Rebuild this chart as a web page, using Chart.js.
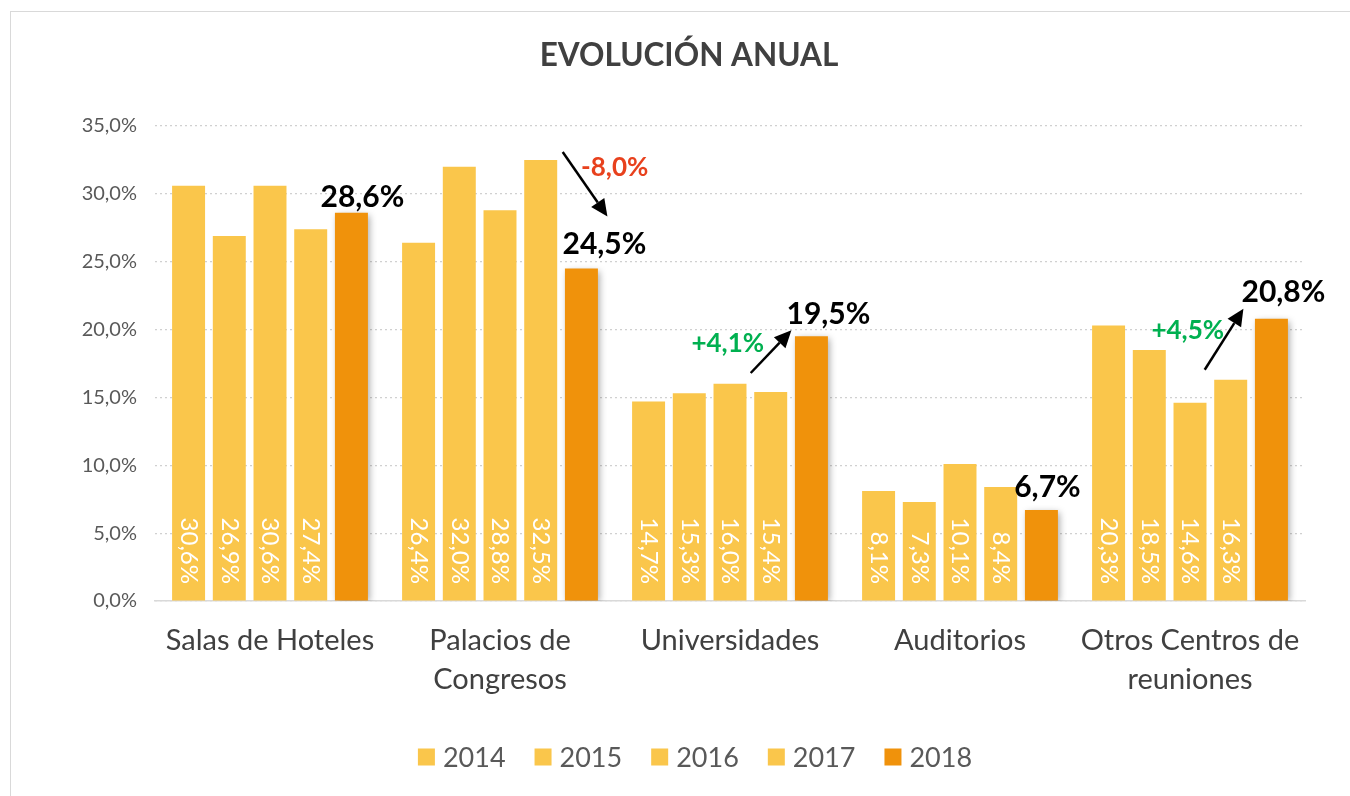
<!DOCTYPE html>
<html>
<head>
<meta charset="utf-8">
<script src="https://cdn.jsdelivr.net/npm/chart.js@4.4.0/dist/chart.umd.min.js"></script>
<style>
  html, body { margin: 0; padding: 0; background: #ffffff; }
  #wrap { position: relative; width: 1350px; height: 796px; overflow: hidden; }
  #frame { position: absolute; left: 10px; top: 11px; width: 1400px; height: 900px;
           border-left: 1.5px solid #d9d9d9; border-top: 1.5px solid #d9d9d9; }
  canvas { position: absolute; left: 0; top: 0; }
</style>
</head>
<body>
<div id="wrap">
  <div id="frame"></div>
  <canvas id="c" width="1350" height="796"></canvas>
</div>
<script>
const titleText = "EVOLUCIÓN ANUAL";
const categories = [["Salas de Hoteles"], ["Palacios de", "Congresos"], ["Universidades"], ["Auditorios"], ["Otros Centros de", "reuniones"]];
const years = ["2014", "2015", "2016", "2017", "2018"];
const v2014 = [30.6, 26.4, 14.7, 8.1, 20.3];
const v2015 = [26.9, 32.0, 15.3, 7.3, 18.5];
const v2016 = [30.6, 28.8, 16.0, 10.1, 14.6];
const v2017 = [27.4, 32.5, 15.4, 8.4, 16.3];
const v2018 = [28.6, 24.5, 19.5, 6.7, 20.8];
const yTicks = [0, 5, 10, 15, 20, 25, 30, 35];
// categories that get a change annotation (2017 -> 2018)
const changeCats = [1, 2, 4];

const FONT = "Lato, 'Open Sans', sans-serif";
const LIGHT = "#FAC64B";
const DARK = "#F0920B";
const fmt = v => v.toFixed(1).replace('.', ',') + '%';

// styling for annotations (offsets relative to bar marks)
const topLabelOffset = [[11, -6], [23, -15], [17, -12], [6, -13], [12, -17]];
const arrowStyle = {
  1: { s: [22, -8], e: [26, -52], t: [74, 8], color: "#E8411D" },
  2: { s: [-20, -19], e: [-20, -6], t: [-43, -48], color: "#00B050" },
  4: { s: [-26, -10], e: [-28, -10], t: [-43, -49], color: "#00B050" }
};
const TITLE_X = 689, TITLE_Y = 56;
const LEGEND_CX = 695, LEGEND_Y = 757;

const allSeries = [v2014, v2015, v2016, v2017, v2018];
const datasets = years.map((y, i) => ({
  label: y,
  data: allSeries[i],
  backgroundColor: i === 4 ? DARK : LIGHT,
  borderWidth: 0,
  categoryPercentage: 0.885,
  barPercentage: 0.81
}));

function drawArrow(ctx, x1, y1, x2, y2) {
  const ang = Math.atan2(y2 - y1, x2 - x1);
  const hl = 17, hw = 8;
  const bx = x2 - hl * Math.cos(ang), by = y2 - hl * Math.sin(ang);
  ctx.save();
  ctx.strokeStyle = "#000";
  ctx.fillStyle = "#000";
  ctx.lineWidth = 2.5;
  ctx.beginPath();
  ctx.moveTo(x1, y1);
  ctx.lineTo(bx, by);
  ctx.stroke();
  ctx.beginPath();
  ctx.moveTo(x2, y2);
  ctx.lineTo(bx + hw * Math.sin(ang), by - hw * Math.cos(ang));
  ctx.lineTo(bx - hw * Math.sin(ang), by + hw * Math.cos(ang));
  ctx.closePath();
  ctx.fill();
  ctx.restore();
}

const shadowPlugin = {
  id: 'shadow',
  beforeDatasetDraw(chart, args) {
    if (args.index === 4) {
      const ctx = chart.ctx;
      ctx.save();
      ctx.shadowColor = 'rgba(0,0,0,0.35)';
      ctx.shadowBlur = 7;
      ctx.shadowOffsetX = 2;
      ctx.shadowOffsetY = 2;
    }
  },
  afterDatasetDraw(chart, args) {
    if (args.index === 4) chart.ctx.restore();
  }
};

const titleLegendPlugin = {
  id: 'titleLegend',
  afterDraw(chart) {
    const ctx = chart.ctx;
    ctx.save();
    ctx.font = "bold 31.5px " + FONT;
    ctx.fillStyle = "#404040";
    ctx.textAlign = "center";
    ctx.textBaseline = "middle";
    ctx.fillText(titleText, TITLE_X, TITLE_Y);
    ctx.font = "27px " + FONT;
    const box = 17, gapText = 8, gapItem = 29;
    const items = chart.data.datasets.map(ds => ({ label: ds.label, color: ds.backgroundColor, w: box + gapText + ctx.measureText(ds.label).width }));
    const total = items.reduce((a, it) => a + it.w, 0) + gapItem * (items.length - 1);
    let x = LEGEND_CX - total / 2;
    ctx.textAlign = "left";
    ctx.textBaseline = "middle";
    items.forEach(it => {
      ctx.fillStyle = it.color;
      ctx.fillRect(x, LEGEND_Y - box / 2, box, box);
      ctx.fillStyle = "#595959";
      ctx.fillText(it.label, x + box + gapText, LEGEND_Y + 1);
      x += it.w + gapItem;
    });
    ctx.restore();
  }
};

const labelPlugin = {
  id: 'labels',
  afterDatasetsDraw(chart) {
    const ctx = chart.ctx;
    const yScale = chart.scales.y;
    const base = yScale.getPixelForValue(0);
    for (let d = 0; d < 4; d++) {
      const meta = chart.getDatasetMeta(d);
      meta.data.forEach((bar, i) => {
        ctx.save();
        ctx.translate(bar.x, base - 17);
        ctx.rotate(Math.PI / 2);
        ctx.font = "24px " + FONT;
        ctx.fillStyle = "#ffffff";
        ctx.textAlign = "right";
        ctx.textBaseline = "middle";
        ctx.fillText(fmt(allSeries[d][i]), 0, 0);
        ctx.restore();
      });
    }
    const m4 = chart.getDatasetMeta(4);
    m4.data.forEach((bar, i) => {
      ctx.save();
      ctx.font = "bold 30px " + FONT;
      ctx.fillStyle = "#000";
      ctx.textAlign = "center";
      ctx.textBaseline = "alphabetic";
      ctx.fillText(fmt(v2018[i]), bar.x + topLabelOffset[i][0], bar.y + topLabelOffset[i][1]);
      ctx.restore();
    });
    const m3 = chart.getDatasetMeta(3);
    changeCats.forEach(i => {
      const st = arrowStyle[i];
      const b3 = m3.data[i], b4 = m4.data[i];
      drawArrow(ctx, b3.x + st.s[0], b3.y + st.s[1], b4.x + st.e[0], b4.y + st.e[1]);
      const diff = v2018[i] - v2017[i];
      const txt = (diff >= 0 ? '+' : '-') + Math.abs(diff).toFixed(1).replace('.', ',') + '%';
      ctx.save();
      ctx.font = "bold 26px " + FONT;
      ctx.fillStyle = st.color;
      ctx.textAlign = "center";
      ctx.textBaseline = "middle";
      ctx.fillText(txt, b3.x + st.t[0], b3.y + st.t[1]);
      ctx.restore();
    });
  }
};

new Chart(document.getElementById('c'), {
  type: 'bar',
  data: { labels: categories, datasets },
  plugins: [shadowPlugin, labelPlugin, titleLegendPlugin],
  options: {
    responsive: false,
    animation: false,
    layout: { padding: { left: 0, right: 45, top: 126, bottom: 0 } },
    plugins: {
      title: { display: false },
      legend: { display: false },
      tooltip: { enabled: false }
    },
    scales: {
      x: {
        grid: { display: false, drawTicks: false },
        border: { display: true, color: "#d9d9d9", width: 1.5 },
        ticks: {
          color: "#404040",
          font: { family: FONT, size: 29, lineHeight: 1.35 },
          padding: 20,
          maxRotation: 0,
          autoSkip: false
        },
        afterFit(scale) { scale.height = 195; }
      },
      y: {
        min: 0,
        max: 35,
        afterBuildTicks(scale) { scale.ticks = yTicks.map(v => ({ value: v })); },
        grid: { color: "#d0d0d0", lineWidth: 1.2, drawTicks: false },
        border: { display: false, dash: [2, 3] },
        ticks: {
          color: "#595959",
          font: { family: FONT, size: 20 },
          padding: 18,
          callback: v => fmt(v)
        },
        afterFit(scale) { scale.width = 155; }
      }
    }
  }
});
</script>
</body>
</html>
